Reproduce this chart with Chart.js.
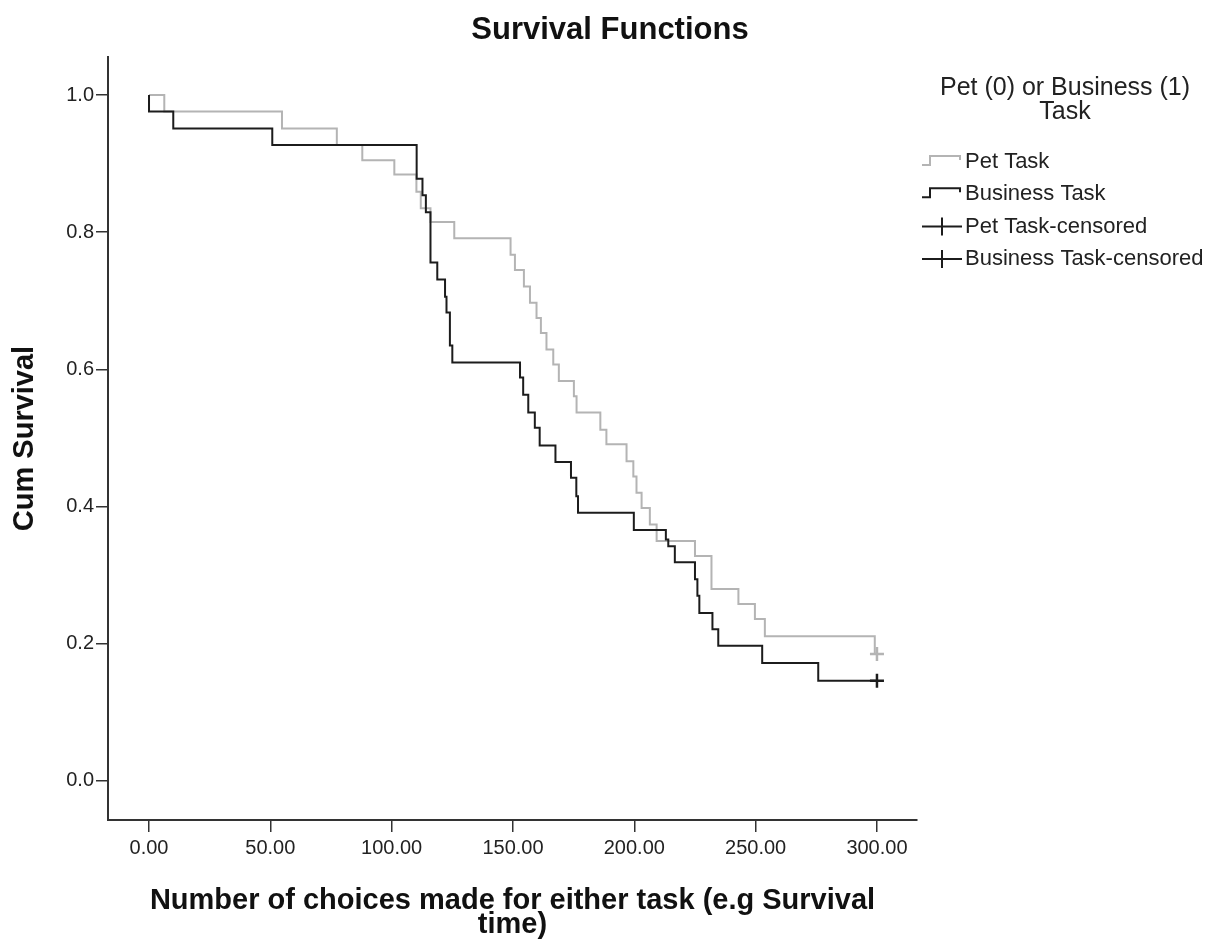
<!DOCTYPE html>
<html>
<head>
<meta charset="utf-8">
<title>Survival Functions</title>
<script src="https://cdn.jsdelivr.net/npm/chart.js@4.4.1/dist/chart.umd.min.js"></script>
<style>
  html, body { margin: 0; padding: 0; background: #fff; }
</style>
</head>
<body>
<canvas id="km" width="1220" height="944"></canvas>
<script>
// Kaplan-Meier steps (time, cumulative survival after the event)
const petTimes = [0, 6.3, 54.8, 77.4, 87.9, 101.1, 110.2, 112, 116, 125.8, 149, 150.8, 154.5, 157,
  159.7, 161.5, 163.8, 166.6, 168.9, 175.1, 176.2, 186, 188.5, 196.8, 199.6, 200.9, 203, 206.4,
  209.2, 225, 231.8, 242.9, 249.7, 253.8, 299.1, 300];
const petSurv = [1.0, 0.976, 0.951, 0.927, 0.905, 0.884, 0.859, 0.835, 0.815, 0.791, 0.767, 0.745,
  0.721, 0.697, 0.675, 0.653, 0.629, 0.607, 0.583, 0.561, 0.537, 0.512, 0.491, 0.466, 0.444, 0.42,
  0.398, 0.374, 0.350, 0.328, 0.280, 0.258, 0.236, 0.211, 0.185, 0.185];

const busTimes = [0, 0, 10, 50.8, 110.3, 112.7, 114.1, 116, 118.8, 122, 122.6, 124, 125, 152.9,
  154.2, 156.3, 159, 161, 167.5, 173.9, 176.1, 176.8, 199.8, 213, 214, 216.7, 225, 226, 226.8,
  232.2, 234.6, 252.7, 275.8, 300];
const busSurv = [1.0, 0.976, 0.951, 0.927, 0.878, 0.854, 0.829, 0.756, 0.731, 0.706, 0.683, 0.635,
  0.610, 0.588, 0.563, 0.537, 0.515, 0.489, 0.465, 0.442, 0.415, 0.391, 0.366, 0.352, 0.342, 0.319,
  0.294, 0.270, 0.245, 0.221, 0.197, 0.172, 0.146, 0.146];

const petCensorTimes = [300];
const petCensorSurv = [0.185];
const busCensorTimes = [300];
const busCensorSurv = [0.146];

const xTicks = [0, 50, 100, 150, 200, 250, 300];
const yTicks = [0, 0.2, 0.4, 0.6, 0.8, 1.0];

const legendTitle = ['Pet (0) or Business (1)', 'Task'];
const legendItems = ['Pet Task', 'Business Task', 'Pet Task-censored', 'Business Task-censored'];

const FONT = "'Liberation Sans', Arial, sans-serif";
const PET_COLOR = '#b4b4b4';
const BUS_COLOR = '#1c1c1c';

const pts = (xs, ys) => xs.map((x, i) => ({ x: x, y: ys[i] }));

// legend drawn by hand (two-line title + step icons)
const kmLegend = {
  id: 'kmLegend',
  afterDraw(chart) {
    const ctx = chart.ctx;
    ctx.save();
    ctx.fillStyle = '#222';
    ctx.textBaseline = 'middle';
    ctx.textAlign = 'center';
    ctx.font = '25px ' + FONT;
    legendTitle.forEach((t, i) => ctx.fillText(t, 1065, 88 + i * 24));

    ctx.textAlign = 'left';
    ctx.font = '22px ' + FONT;
    legendItems.forEach((t, i) => {
      const y = 162 + i * 32.3;
      ctx.lineWidth = 2;
      ctx.beginPath();
      if (i < 2) {
        ctx.strokeStyle = i === 0 ? PET_COLOR : BUS_COLOR;
        ctx.moveTo(922, y + 3);
        ctx.lineTo(930, y + 3);
        ctx.lineTo(930, y - 6);
        ctx.lineTo(960, y - 6);
        ctx.lineTo(960, y - 2);
      } else {
        ctx.strokeStyle = BUS_COLOR;
        ctx.moveTo(922, y);
        ctx.lineTo(962, y);
        ctx.moveTo(942, y - 9);
        ctx.lineTo(942, y + 9);
      }
      ctx.stroke();
      ctx.fillText(t, 965, y);
    });
    ctx.restore();
  }
};

new Chart(document.getElementById('km'), {
  type: 'line',
  data: {
    datasets: [
      {
        label: 'Business Task-censored',
        data: pts(busCensorTimes, busCensorSurv),
        showLine: false,
        pointStyle: 'cross',
        pointRadius: 7,
        borderWidth: 2.5,
        borderColor: BUS_COLOR
      },
      {
        label: 'Pet Task-censored',
        data: pts(petCensorTimes, petCensorSurv),
        showLine: false,
        pointStyle: 'cross',
        pointRadius: 7,
        borderWidth: 2.5,
        borderColor: PET_COLOR
      },
      {
        label: 'Business Task',
        data: pts(busTimes, busSurv),
        stepped: true,
        borderColor: BUS_COLOR,
        borderWidth: 2,
        pointRadius: 0,
        fill: false
      },
      {
        label: 'Pet Task',
        data: pts(petTimes, petSurv),
        stepped: true,
        borderColor: PET_COLOR,
        borderWidth: 2,
        pointRadius: 0,
        fill: false
      }
    ]
  },
  options: {
    responsive: false,
    animation: false,
    devicePixelRatio: 1,
    layout: { padding: 0 },
    plugins: {
      legend: { display: false },
      tooltip: { enabled: false },
      title: {
        display: true,
        text: 'Survival Functions',
        color: '#111',
        font: { family: FONT, size: 31, weight: 'bold', lineHeight: '36px' },
        padding: { top: 12, bottom: 9 }
      }
    },
    scales: {
      x: {
        type: 'linear',
        min: -16.9,
        max: 316.5,
        afterBuildTicks: s => { s.ticks = xTicks.map(v => ({ value: v })); },
        afterFit: s => { s.height = 124; },
        ticks: {
          callback: v => v.toFixed(2),
          color: '#222',
          font: { family: FONT, size: 20 },
          padding: 4,
          maxRotation: 0,
          autoSkip: false
        },
        grid: { drawOnChartArea: false, drawTicks: true, tickLength: 12, color: '#333', lineWidth: 1.5 },
        border: { display: true, color: '#333', width: 2 },
        title: {
          display: true,
          text: ['Number of choices made for either task (e.g Survival', 'time)'],
          color: '#111',
          font: { family: FONT, size: 29, weight: 'bold', lineHeight: '24px' },
          padding: { top: 0, bottom: 7 }
        }
      },
      y: {
        type: 'linear',
        min: -0.0569,
        max: 1.0554,
        afterBuildTicks: s => { s.ticks = yTicks.map(v => ({ value: v })); },
        afterFit: s => { s.width = 108; },
        ticks: {
          callback: v => v.toFixed(1),
          color: '#222',
          font: { family: FONT, size: 20 },
          padding: 2
        },
        grid: { drawOnChartArea: false, drawTicks: true, tickLength: 12, color: '#333', lineWidth: 1.5 },
        border: { display: true, color: '#333', width: 2 },
        title: {
          display: true,
          text: 'Cum Survival',
          color: '#111',
          font: { family: FONT, size: 29, weight: 'bold' },
          padding: { top: 8, bottom: 0 }
        }
      },
      yRight: {
        type: 'linear',
        axis: 'y',
        position: 'right',
        display: true,
        afterFit: s => { s.width = 303; },
        ticks: { display: false },
        grid: { display: false },
        border: { display: false }
      }
    }
  },
  plugins: [kmLegend]
});
</script>
</body>
</html>
